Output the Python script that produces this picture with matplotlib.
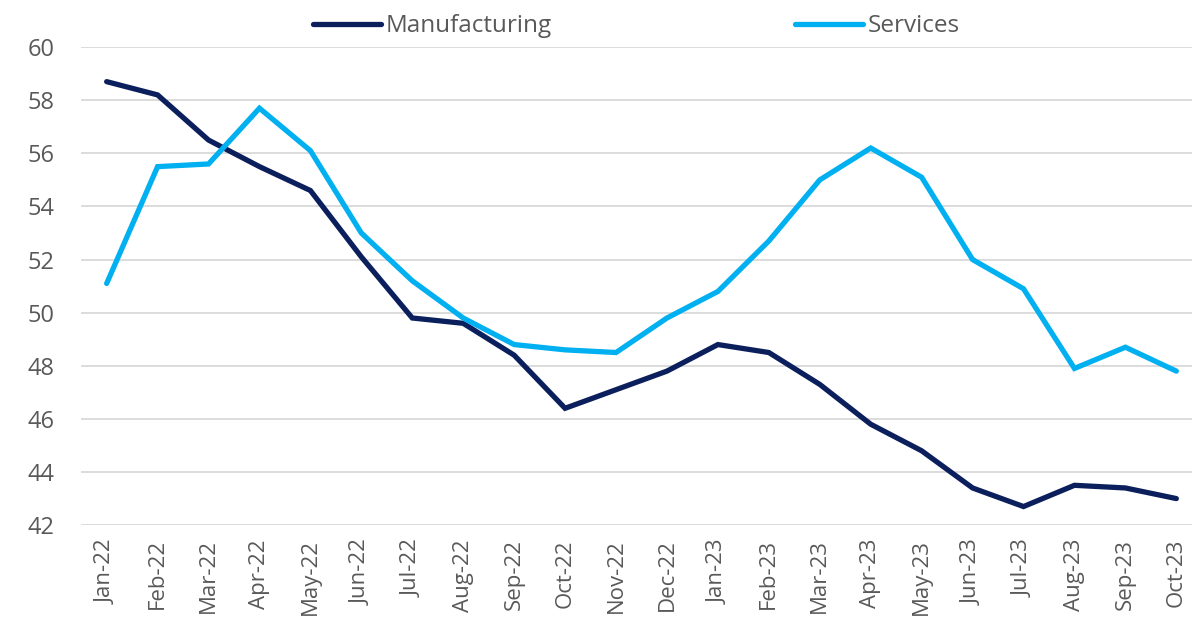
import matplotlib
matplotlib.use("Agg")
import matplotlib.pyplot as plt

months = ["Jan-22", "Feb-22", "Mar-22", "Apr-22", "May-22", "Jun-22", "Jul-22", "Aug-22",
          "Sep-22", "Oct-22", "Nov-22", "Dec-22", "Jan-23", "Feb-23", "Mar-23", "Apr-23",
          "May-23", "Jun-23", "Jul-23", "Aug-23", "Sep-23", "Oct-23"]
manufacturing = [58.7, 58.2, 56.5, 55.5, 54.6, 52.1, 49.8, 49.6, 48.4, 46.4, 47.1, 47.8,
                 48.8, 48.5, 47.3, 45.8, 44.8, 43.4, 42.7, 43.5, 43.4, 43.0]
services = [51.1, 55.5, 55.6, 57.7, 56.1, 53.0, 51.2, 49.8, 48.8, 48.6, 48.5, 49.8,
            50.8, 52.7, 55.0, 56.2, 55.1, 52.0, 50.9, 47.9, 48.7, 47.8]
yticks = list(range(42, 61, 2))

plt.rcParams['font.family'] = ['Open Sans', 'DejaVu Sans']
fig = plt.figure(figsize=(11.94, 6.2), dpi=100)
ax = fig.add_axes([0.068, 0.153, 0.93, 0.771])

x = list(range(len(months)))
ax.plot(x, manufacturing, color="#0B1F5C", lw=3.8, solid_capstyle="round", solid_joinstyle="miter", label="Manufacturing")
ax.plot(x, services, color="#00B0F0", lw=3.8, solid_capstyle="round", solid_joinstyle="miter", label="Services")

ax.set_ylim(42, 60)
ax.set_yticks(yticks)
ax.set_xlim(-0.5, 21.3)
ax.set_xticks(x)
ax.set_xticklabels(months, rotation=90)
ax.grid(axis="y", color="#D9D9D9", lw=1.3)
ax.set_axisbelow(True)
for s in ax.spines.values():
    s.set_visible(False)
ax.tick_params(axis="x", length=0, labelsize=16, colors="#595959", pad=10)
ax.tick_params(axis="y", length=0, labelsize=17, colors="#595959", pad=19)

leg = ax.legend(loc="upper center", bbox_to_anchor=(0.5, 1.115), ncol=2, frameon=False,
                fontsize=17.5, handlelength=2.8, columnspacing=10.0, handletextpad=0.2)
for t in leg.get_texts():
    t.set_color("#595959")

fig.savefig("out.png", dpi=100)
